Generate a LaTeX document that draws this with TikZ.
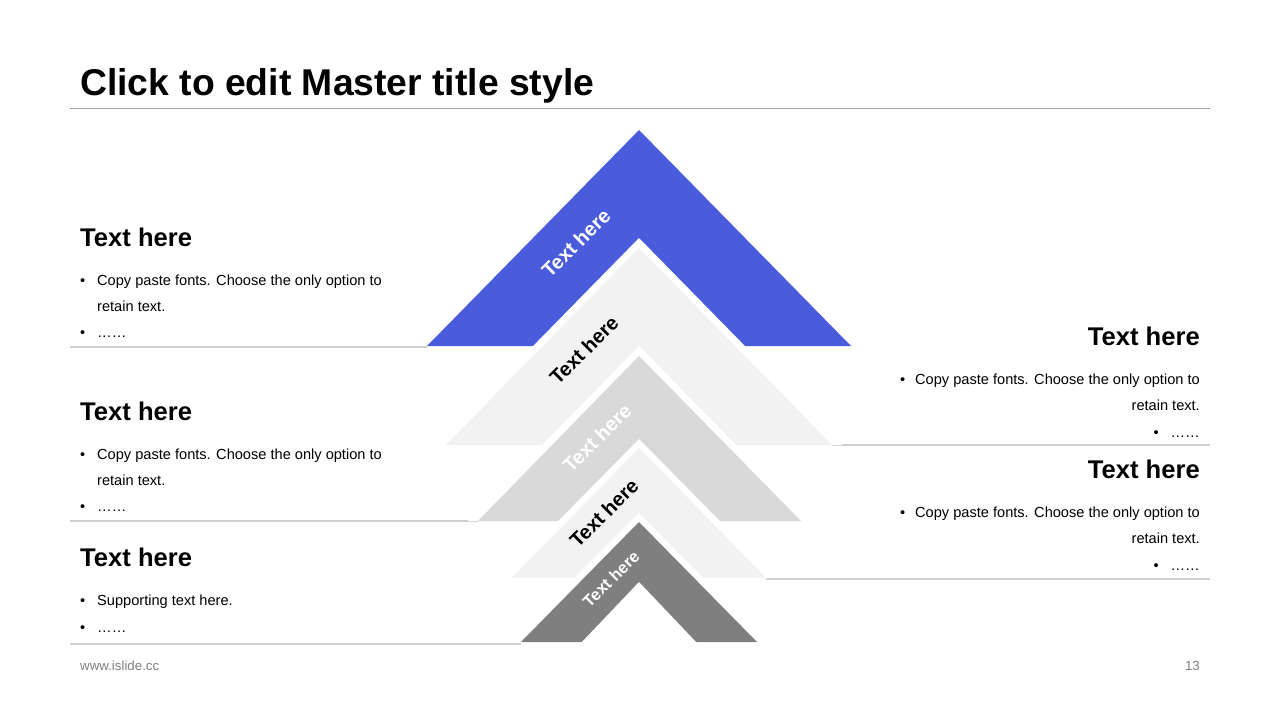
\documentclass[tikz,border=0pt]{standalone}
\usepackage{fontspec}
\setmainfont{Liberation Sans}
\definecolor{iblue}{RGB}{74,91,220}
\definecolor{lightg}{HTML}{F2F2F2}
\definecolor{midg}{HTML}{D9D9D9}
\definecolor{darkg}{HTML}{7F7F7F}
\definecolor{sepg}{HTML}{D0D0D0}
\definecolor{rulg}{HTML}{A6A6A6}
\definecolor{footg}{HTML}{808080}
\begin{document}
\begin{tikzpicture}[x=1pt,y=-1pt,
  heading/.style={font=\bfseries\fontsize{25.6}{30}\selectfont, inner sep=0},
  body/.style={font=\fontsize{14.6}{18}\selectfont, inner sep=0},
  lbl/.style={font=\bfseries\fontsize{20}{24}\selectfont, rotate=45, inner sep=0},
  sep/.style={draw=sepg, line width=1.2pt},
  halo/.style={fill=white}]
\useasboundingbox[fill=white] (0,0) rectangle (1280,720);
% title
\node[font=\bfseries\fontsize{37.3}{44}\selectfont, inner sep=0, anchor=base west] (title) at (80,95.5) {Click to edit Master title style};
\draw[rulg, line width=1pt] (70,108) -- (1210,108);
% separators
\coordinate (l1a) at (70,347); \coordinate (l1b) at (427,347);
\coordinate (l2a) at (70,521); \coordinate (l2b) at (478,521);
\coordinate (l3a) at (70,644); \coordinate (l3b) at (521,644);
\coordinate (r1a) at (832,445); \coordinate (r1b) at (1210,445);
\coordinate (r2a) at (766,579); \coordinate (r2b) at (1210,579);
\draw[sep] (l1a) -- (l1b);
\draw[sep] (l2a) -- (l2b);
\draw[sep] (l3a) -- (l3b);
\draw[sep] (r1a) -- (r1b);
\draw[sep] (r2a) -- (r2b);
% chevrons
\fill[iblue] (427,346) -- (639,130) -- (851,346) -- cycle;
\fill[halo] (436,445) -- (639,238) -- (842,445) -- cycle;
\fill[lightg] (446,445) -- (639,248) -- (832,445) -- cycle;
\fill[halo] (468,521) -- (639,346) -- (811,521) -- cycle;
\fill[midg] (478,521) -- (639,356) -- (801,521) -- cycle;
\fill[halo] (502,578) -- (639,439) -- (776,578) -- cycle;
\fill[lightg] (512,578) -- (639,448) -- (766,578) -- cycle;
\fill[halo] (511,642) -- (639,513) -- (767,642) -- cycle;
\fill[darkg] (521,642) -- (639,522) -- (757,642) -- cycle;
\fill[white] (581,643) -- (639,582) -- (697,643) -- cycle;
% rotated labels
\node[lbl, text=white] (c1) at (576,243) {Text here};
\node[lbl, text=black] (c2) at (584,350) {Text here};
\node[lbl, text=white] (c3) at (597,438) {Text here};
\node[lbl, text=black] (c4) at (604,513) {Text here};
\node[lbl, text=white, font=\bfseries\fontsize{16.5}{20}\selectfont] (c5) at (611,579) {Text here};
% left block 1
\node[heading, anchor=base west] (h1) at (80,246) {Text here};
\node[body, anchor=base west] (b11) at (80,285) {\makebox[17pt][l]{•}Copy paste fonts. Choose the only option to};
\node[body, anchor=base west] (b12) at (97,311) {retain text.};
\node[body, anchor=base west] (b13) at (80,337) {\makebox[17pt][l]{•}……};
% left block 2
\node[heading, anchor=base west] (h2) at (80,420) {Text here};
\node[body, anchor=base west] (b21) at (80,459) {\makebox[17pt][l]{•}Copy paste fonts. Choose the only option to};
\node[body, anchor=base west] (b22) at (97,485) {retain text.};
\node[body, anchor=base west] (b23) at (80,511) {\makebox[17pt][l]{•}……};
% left block 3
\node[heading, anchor=base west] (h3) at (80,566) {Text here};
\node[body, anchor=base west] (b31) at (80,605) {\makebox[17pt][l]{•}Supporting text here.};
\node[body, anchor=base west] (b32) at (80,632) {\makebox[17pt][l]{•}……};
% right block 1
\node[heading, anchor=base east] (h4) at (1200,345) {Text here};
\node[body, anchor=base east] (b41) at (1200,384) {\makebox[15pt][l]{•}Copy paste fonts. Choose the only option to};
\node[body, anchor=base east] (b42) at (1200,410) {retain text.};
\node[body, anchor=base east] (b43) at (1200,437) {\makebox[17pt][l]{•}……};
% right block 2
\node[heading, anchor=base east] (h5) at (1200,478) {Text here};
\node[body, anchor=base east] (b51) at (1200,517) {\makebox[15pt][l]{•}Copy paste fonts. Choose the only option to};
\node[body, anchor=base east] (b52) at (1200,543) {retain text.};
\node[body, anchor=base east] (b53) at (1200,570) {\makebox[17pt][l]{•}……};
% footer
\node[font=\fontsize{13.3}{16}\selectfont, text=footg, inner sep=0, anchor=base west] (foot) at (80,670.5) {www.islide.cc};
\node[font=\fontsize{13.3}{16}\selectfont, text=footg, inner sep=0, anchor=base east] (pg) at (1200,670.5) {13};
\end{tikzpicture}
\end{document}
